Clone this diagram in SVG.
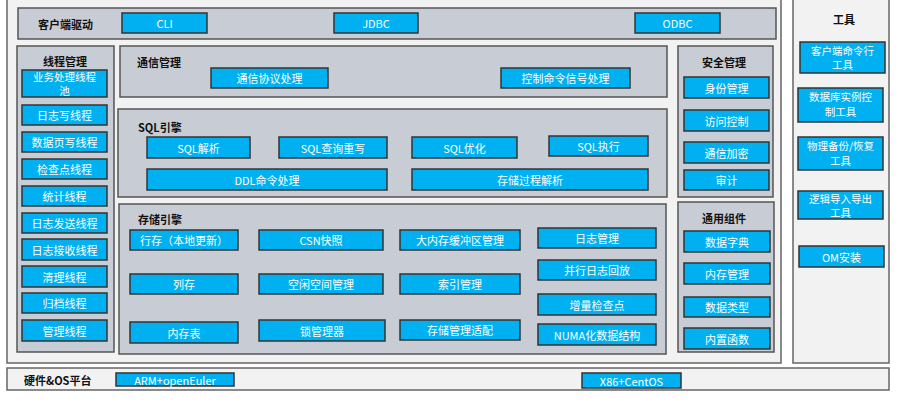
<svg xmlns="http://www.w3.org/2000/svg" width="900" height="401" viewBox="0 0 900 401">
<style>
text{font-family:"Noto Sans CJK SC","Liberation Sans",sans-serif}
.outer{fill:#f2f2f2;stroke:#666;stroke-width:1.5}
.panel{fill:#c8ccd4;stroke:#555;stroke-width:1.5}
.box{fill:#00b0f0;stroke:#333;stroke-width:1.5}
.t{fill:#fff;font-size:11px;text-anchor:middle;dominant-baseline:central}
.m{fill:#fff;font-size:10.5px;text-anchor:middle}
.h{fill:#111;font-size:11px;font-weight:bold;dominant-baseline:central}
.hc{text-anchor:middle}
</style>
<rect width="900" height="401" fill="#fff"/>
<g id="main"><rect class="outer" x="7" y="-2" width="774" height="365"/></g>
<g id="tools-panel"><rect class="outer" x="793" y="-2" width="96" height="365"/><text class="h hc" x="844" y="19">工具</text></g>
<g id="platform"><rect class="outer" x="7" y="368" width="882" height="22"/><text class="h" x="24" y="380">硬件&amp;OS平台</text></g>

<g id="client"><rect class="panel" x="18" y="8" width="758" height="31"/><text class="h" x="38" y="24">客户端驱动</text></g>
<g id="cli"><rect class="box" x="122" y="13" width="85" height="20"/><text class="t" x="164.5" y="23">CLI</text></g>
<g id="jdbc"><rect class="box" x="334" y="13" width="84" height="20"/><text class="t" x="376" y="23">JDBC</text></g>
<g id="odbc"><rect class="box" x="635" y="13" width="85" height="20"/><text class="t" x="677.5" y="23">ODBC</text></g>

<g id="thread"><rect class="panel" x="17" y="46" width="97" height="306"/><text class="h hc" x="65" y="61">线程管理</text></g>
<g id="t1"><rect class="box" x="22" y="70" width="85" height="27"/><text class="m" x="64.5" y="81"><tspan x="64.5">业务处理线程</tspan><tspan x="64.5" dy="13.5">池</tspan></text></g>
<g id="t2"><rect class="box" x="22" y="105" width="85" height="20"/><text class="t" x="64.5" y="115">日志写线程</text></g>
<g id="t3"><rect class="box" x="22" y="132" width="85" height="20"/><text class="t" x="64.5" y="142">数据页写线程</text></g>
<g id="t4"><rect class="box" x="22" y="159" width="85" height="20"/><text class="t" x="64.5" y="169">检查点线程</text></g>
<g id="t5"><rect class="box" x="22" y="186" width="85" height="20"/><text class="t" x="64.5" y="196">统计线程</text></g>
<g id="t6"><rect class="box" x="22" y="213" width="85" height="20"/><text class="t" x="64.5" y="223">日志发送线程</text></g>
<g id="t7"><rect class="box" x="22" y="239" width="85" height="21"/><text class="t" x="64.5" y="249.5">日志接收线程</text></g>
<g id="t8"><rect class="box" x="22" y="266" width="85" height="21"/><text class="t" x="64.5" y="276.5">清理线程</text></g>
<g id="t9"><rect class="box" x="22" y="293" width="85" height="20"/><text class="t" x="64.5" y="303">归档线程</text></g>
<g id="t10"><rect class="box" x="22" y="320" width="85" height="21"/><text class="t" x="64.5" y="330.5">管理线程</text></g>

<g id="comm"><rect class="panel" x="120" y="46" width="547" height="51"/><text class="h" x="137" y="62">通信管理</text></g>
<g id="c1"><rect class="box" x="211" y="68" width="117" height="20"/><text class="t" x="269.5" y="78">通信协议处理</text></g>
<g id="c2"><rect class="box" x="501" y="68" width="129" height="20"/><text class="t" x="565.5" y="78">控制命令信号处理</text></g>

<g id="security"><rect class="panel" x="678" y="46" width="95" height="151"/><text class="h hc" x="724" y="62">安全管理</text></g>
<g id="s1"><rect class="box" x="684" y="77" width="85" height="21"/><text class="t" x="726.5" y="87.5">身份管理</text></g>
<g id="s2"><rect class="box" x="684" y="110" width="85" height="21"/><text class="t" x="726.5" y="120.5">访问控制</text></g>
<g id="s3"><rect class="box" x="684" y="142" width="85" height="21"/><text class="t" x="726.5" y="152.5">通信加密</text></g>
<g id="s4"><rect class="box" x="684" y="170" width="85" height="20"/><text class="t" x="726.5" y="180">审计</text></g>

<g id="sql"><rect class="panel" x="118" y="109" width="549" height="88"/><text class="h" x="138" y="127">SQL引擎</text></g>
<g id="q1"><rect class="box" x="147" y="137" width="103" height="21"/><text class="t" x="198.5" y="147.5">SQL解析</text></g>
<g id="q2"><rect class="box" x="279" y="137" width="108" height="21"/><text class="t" x="333" y="147.5">SQL查询重写</text></g>
<g id="q3"><rect class="box" x="412" y="137" width="105" height="21"/><text class="t" x="464.5" y="147.5">SQL优化</text></g>
<g id="q4"><rect class="box" x="549" y="136" width="99" height="20"/><text class="t" x="598.5" y="146">SQL执行</text></g>
<g id="q5"><rect class="box" x="147" y="169" width="240" height="21"/><text class="t" x="267" y="179.5">DDL命令处理</text></g>
<g id="q6"><rect class="box" x="412" y="169" width="236" height="21"/><text class="t" x="530" y="179.5">存储过程解析</text></g>

<g id="storage"><rect class="panel" x="119" y="204" width="547" height="150"/><text class="h" x="138" y="219">存储引擎</text></g>
<g id="e1"><rect class="box" x="130" y="230" width="108" height="20"/><text class="t" x="184" y="240">行存（本地更新）</text></g>
<g id="e2"><rect class="box" x="259" y="230" width="124" height="20"/><text class="t" x="321" y="240">CSN快照</text></g>
<g id="e3"><rect class="box" x="400" y="230" width="120" height="20"/><text class="t" x="460" y="240">大内存缓冲区管理</text></g>
<g id="e4"><rect class="box" x="538" y="228" width="118" height="20"/><text class="t" x="597" y="238">日志管理</text></g>
<g id="e5"><rect class="box" x="130" y="274" width="108" height="20"/><text class="t" x="184" y="284">列存</text></g>
<g id="e6"><rect class="box" x="259" y="274" width="124" height="20"/><text class="t" x="321" y="284">空闲空间管理</text></g>
<g id="e7"><rect class="box" x="400" y="274" width="120" height="20"/><text class="t" x="460" y="284">索引管理</text></g>
<g id="e8"><rect class="box" x="538" y="260" width="118" height="20"/><text class="t" x="597" y="270">并行日志回放</text></g>
<g id="e9"><rect class="box" x="538" y="294" width="118" height="21"/><text class="t" x="597" y="304.5">增量检查点</text></g>
<g id="e10"><rect class="box" x="130" y="322" width="108" height="21"/><text class="t" x="184" y="332.5">内存表</text></g>
<g id="e11"><rect class="box" x="259" y="320" width="126" height="21"/><text class="t" x="322" y="330.5">锁管理器</text></g>
<g id="e12"><rect class="box" x="400" y="320" width="120" height="20"/><text class="t" x="460" y="330">存储管理适配</text></g>
<g id="e13"><rect class="box" x="538" y="324" width="118" height="21"/><text class="t" x="597" y="334.5">NUMA化数据结构</text></g>

<g id="general"><rect class="panel" x="678" y="202" width="96" height="150"/><text class="h hc" x="724" y="218">通用组件</text></g>
<g id="g1"><rect class="box" x="684" y="231" width="86" height="21"/><text class="t" x="727" y="241.5">数据字典</text></g>
<g id="g2"><rect class="box" x="684" y="263" width="86" height="21"/><text class="t" x="727" y="273.5">内存管理</text></g>
<g id="g3"><rect class="box" x="684" y="297" width="86" height="20"/><text class="t" x="727" y="307">数据类型</text></g>
<g id="g4"><rect class="box" x="684" y="328" width="86" height="21"/><text class="t" x="727" y="338.5">内置函数</text></g>

<g id="w1"><rect class="box" x="800" y="42" width="85" height="31"/><text class="m" x="842.5" y="55"><tspan x="842.5">客户端命令行</tspan><tspan x="842.5" dy="14">工具</tspan></text></g>
<g id="w2"><rect class="box" x="798" y="88" width="85" height="34"/><text class="m" x="840.5" y="101"><tspan x="840.5">数据库实例控</tspan><tspan x="840.5" dy="15">制工具</tspan></text></g>
<g id="w3"><rect class="box" x="798" y="137" width="85" height="33"/><text class="m" x="840.5" y="150"><tspan x="840.5">物理备份/恢复</tspan><tspan x="840.5" dy="15">工具</tspan></text></g>
<g id="w4"><rect class="box" x="798" y="191" width="85" height="28"/><text class="m" x="840.5" y="203"><tspan x="840.5">逻辑导入导出</tspan><tspan x="840.5" dy="13.5">工具</tspan></text></g>
<g id="w5"><rect class="box" x="799" y="246" width="85" height="21"/><text class="t" x="841.5" y="256.5">OM安装</text></g>

<g id="p1"><rect class="box" x="116" y="373" width="118" height="13"/><text class="t" x="175" y="379.5">ARM+openEuler</text></g>
<g id="p2"><rect class="box" x="582" y="373" width="99" height="15"/><text class="t" x="631.5" y="380.5">X86+CentOS</text></g>
<g id="connectors"/>
</svg>
